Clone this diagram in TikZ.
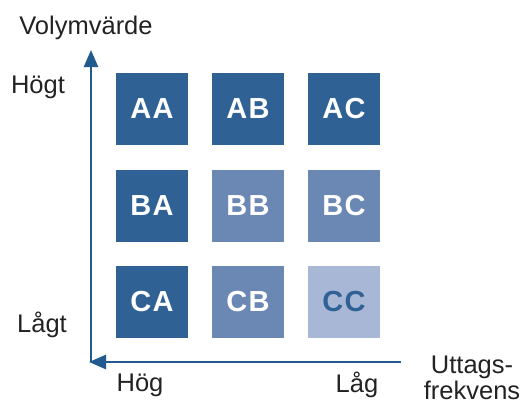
\documentclass[tikz,border=0pt]{standalone}
\usepackage{fontspec}
\setmainfont{Liberation Sans}
\usetikzlibrary{arrows.meta}
\definecolor{dk}{HTML}{2F6195}
\definecolor{md}{HTML}{6B87B4}
\definecolor{lt}{HTML}{A7B7D5}
\definecolor{ax}{HTML}{215A8E}
\definecolor{tx}{HTML}{222222}
\tikzset{
  cell/.style={minimum width=72pt,minimum height=72pt,inner sep=0pt,font=\fontsize{29}{29}\selectfont\bfseries\addfontfeatures{LetterSpace=4},text=white},
  lbl/.style={font=\fontsize{25.5}{26}\selectfont,text=tx,inner sep=0pt},
  axis/.style={draw=ax,line width=2.6pt,-{Triangle[length=17pt,width=14pt]}}
}
\begin{document}
\begin{tikzpicture}[x=1pt,y=-1pt]
\useasboundingbox (0,0) rectangle (526,405);
\coordinate (o) at (91,362);
\coordinate (yt) at (91,50);
\coordinate (xe) at (401,362);
\draw[axis] (o) -- (yt);
\draw[axis,shorten >=-2pt] (xe) -- (o);
\node[cell,fill=dk] (AA) at (152,109) {AA};
\node[cell,fill=dk] (AB) at (248,109) {AB};
\node[cell,fill=dk] (AC) at (344,109) {AC};
\node[cell,fill=dk] (BA) at (152,205.5) {BA};
\node[cell,fill=md] (BB) at (248,205.5) {BB};
\node[cell,fill=md] (BC) at (344,205.5) {BC};
\node[cell,fill=dk] (CA) at (152,302) {CA};
\node[cell,fill=md] (CB) at (248,302) {CB};
\node[cell,fill=lt,text=dk] (CC) at (344,302) {CC};
\node[lbl] (vol) at (86,28) {Volymvärde};
\node[lbl] (hogt) at (38,87) {Högt};
\node[lbl] (lagt) at (42,325) {Lågt};
\node[lbl] (hog) at (140,385) {Hög};
\node[lbl] (lag) at (357,385) {Låg};
\node[lbl,align=center] (utt) at (472,378) {Uttags-\\frekvens};
\end{tikzpicture}
\end{document}
